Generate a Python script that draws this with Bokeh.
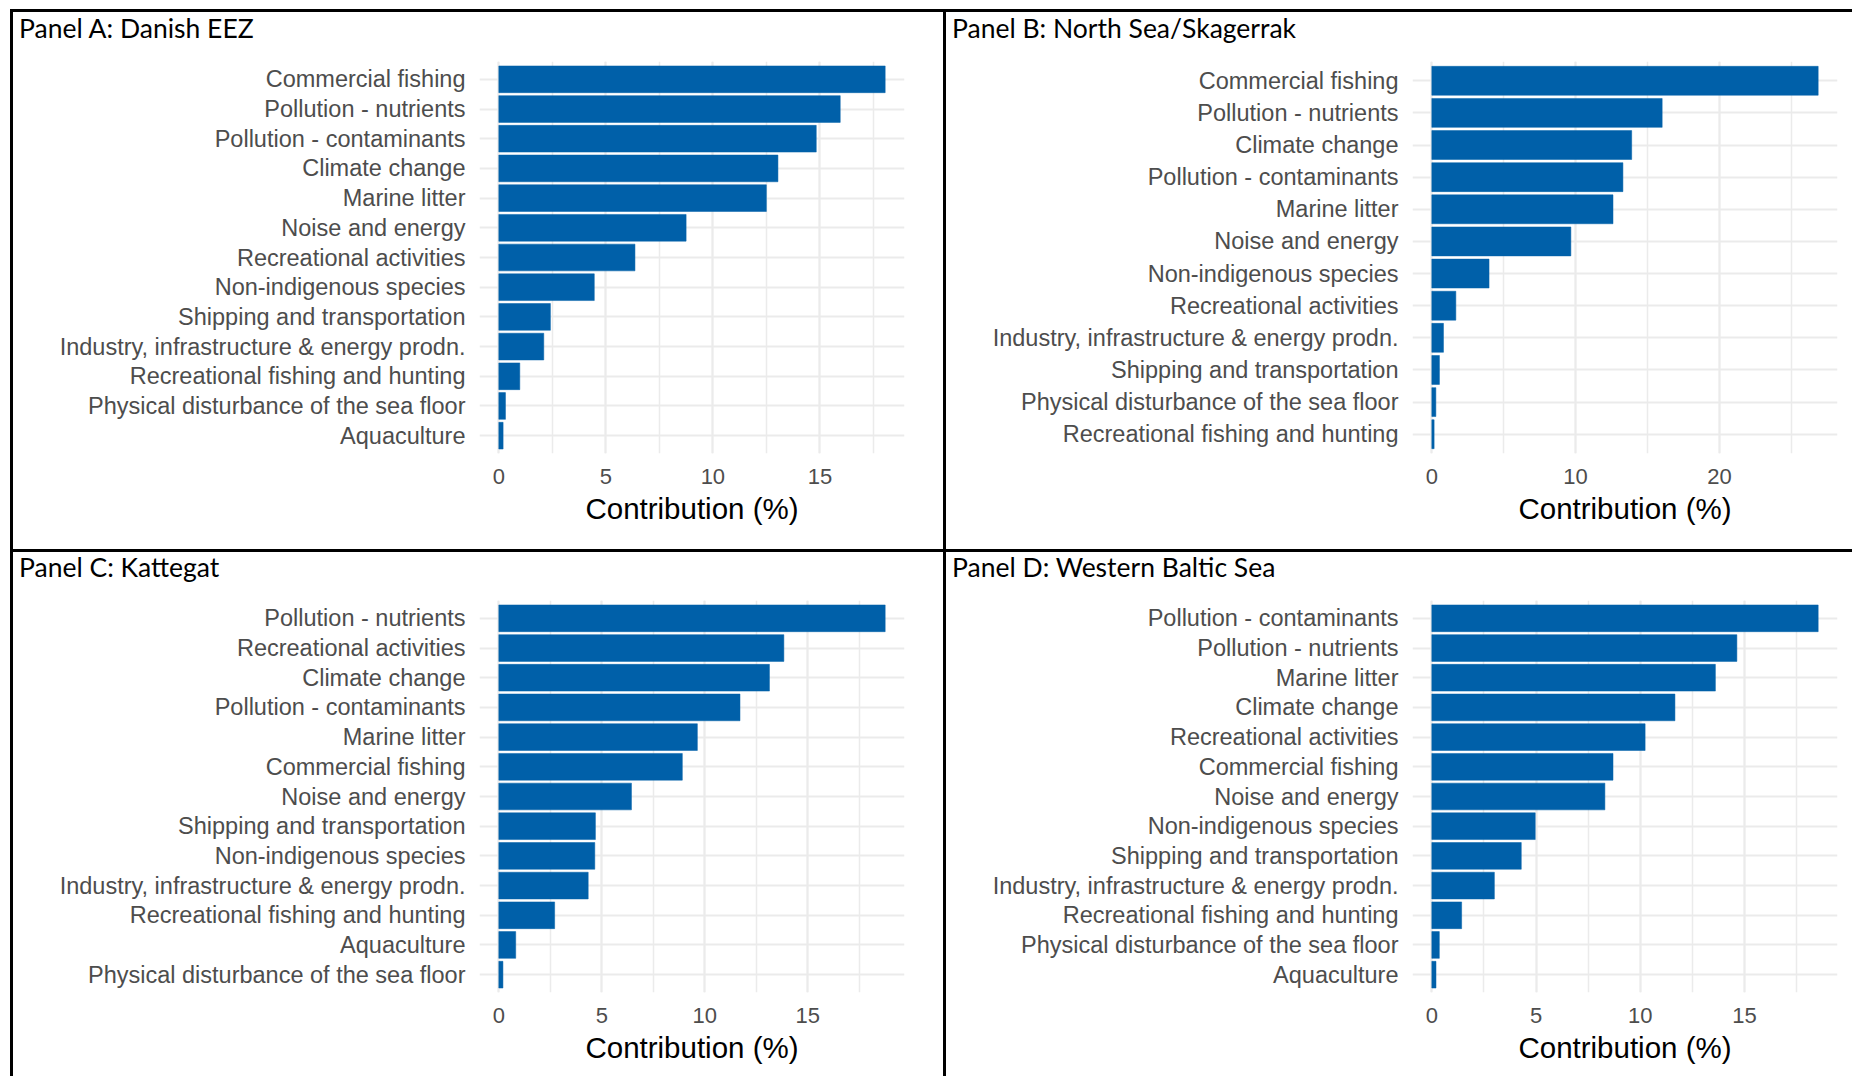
from bokeh.plotting import figure
from bokeh.models import Range1d, FixedTicker, SingleIntervalTicker, Spacer, Div
from bokeh.layouts import row, column
from bokeh.embed import file_html
from bokeh.resources import INLINE

# ---------------- data ----------------
title_a = "Panel A: Danish EEZ"
cats_a = ["Commercial fishing", "Pollution - nutrients", "Pollution - contaminants",
          "Climate change", "Marine litter", "Noise and energy", "Recreational activities",
          "Non-indigenous species", "Shipping and transportation",
          "Industry, infrastructure & energy prodn.", "Recreational fishing and hunting",
          "Physical disturbance of the sea floor", "Aquaculture"]
vals_a = [18.05, 15.95, 14.83, 13.04, 12.5, 8.75, 6.36, 4.46, 2.41, 2.10, 0.98, 0.31, 0.2]

title_b = "Panel B: North Sea/Skagerrak"
cats_b = ["Commercial fishing", "Pollution - nutrients", "Climate change",
          "Pollution - contaminants", "Marine litter", "Noise and energy",
          "Non-indigenous species", "Recreational activities",
          "Industry, infrastructure & energy prodn.", "Shipping and transportation",
          "Physical disturbance of the sea floor", "Recreational fishing and hunting"]
vals_b = [26.87, 16.02, 13.9, 13.29, 12.6, 9.67, 3.98, 1.67, 0.81, 0.53, 0.28, 0.16]

title_c = "Panel C: Kattegat"
cats_c = ["Pollution - nutrients", "Recreational activities", "Climate change",
          "Pollution - contaminants", "Marine litter", "Commercial fishing",
          "Noise and energy", "Shipping and transportation", "Non-indigenous species",
          "Industry, infrastructure & energy prodn.", "Recreational fishing and hunting",
          "Aquaculture", "Physical disturbance of the sea floor"]
vals_c = [18.76, 13.84, 13.14, 11.71, 9.64, 8.91, 6.44, 4.69, 4.66, 4.34, 2.71, 0.82, 0.2]

title_d = "Panel D: Western Baltic Sea"
cats_d = ["Pollution - contaminants", "Pollution - nutrients", "Marine litter",
          "Climate change", "Recreational activities", "Commercial fishing",
          "Noise and energy", "Non-indigenous species", "Shipping and transportation",
          "Industry, infrastructure & energy prodn.", "Recreational fishing and hunting",
          "Physical disturbance of the sea floor", "Aquaculture"]
vals_d = [18.53, 14.63, 13.6, 11.66, 10.23, 8.69, 8.3, 4.96, 4.29, 3.0, 1.43, 0.36, 0.2]

x_label = "Contribution (%)"

BAR = "#0060A9"
GRID = "#EBEBEB"
TXT = "#4D4D4D"
BORDER = "3px solid black"


def title_div(title, width, height, pad_top):
    html = ('<div style="font-family:Lato;font-size:26.5px;line-height:26.5px;color:black;'
            'white-space:nowrap;padding:%dpx 0 0 6px;">%s</div>' % (pad_top, title))
    return Div(text=html, width=width, height=height, margin=0,
               styles={"border-left": BORDER, "border-top": BORDER,
                       "background-color": "white"})


def panel(cats, vals, interval, width, height, mb_right, mb_top, mb_bottom):
    n = len(cats)
    ys = list(range(n, 0, -1))
    vmax = max(vals)
    p = figure(width=width, height=height, output_backend="svg", toolbar_location=None,
               x_range=Range1d(-0.05 * vmax, 1.05 * vmax),
               y_range=Range1d(0.4, n + 0.6),
               min_border_left=466, min_border_right=mb_right,
               min_border_top=mb_top, min_border_bottom=mb_bottom,
               styles={"border-left": BORDER})
    p.hbar(y=ys, right=vals, left=0, height=0.9, fill_color=BAR, line_color=BAR, line_width=0.5)

    p.outline_line_color = None
    p.background_fill_color = "white"
    p.border_fill_color = "white"

    xa = p.xaxis[0]
    xa.ticker = SingleIntervalTicker(interval=interval, num_minor_ticks=2)
    xa.axis_line_color = None
    xa.major_tick_line_color = None
    xa.minor_tick_line_color = None
    xa.major_label_text_font = "Liberation Sans"
    xa.major_label_text_font_size = "22px"
    xa.major_label_text_color = TXT
    xa.major_label_standoff = 9
    xa.axis_label = x_label
    xa.axis_label_text_font = "Liberation Sans"
    xa.axis_label_text_font_size = "29.5px"
    xa.axis_label_text_font_style = "normal"
    xa.axis_label_text_color = "black"
    xa.axis_label_standoff = 5

    ya = p.yaxis[0]
    ya.ticker = FixedTicker(ticks=ys)
    ya.major_label_overrides = {y: c for y, c in zip(ys, cats)}
    ya.axis_line_color = None
    ya.major_tick_line_color = None
    ya.minor_tick_line_color = None
    ya.major_label_text_font = "Liberation Sans"
    ya.major_label_text_font_size = "23.5px"
    ya.major_label_text_color = TXT
    ya.major_label_standoff = 8

    p.xgrid.grid_line_color = GRID
    p.xgrid.grid_line_width = 2
    p.xgrid.minor_grid_line_color = GRID
    p.xgrid.minor_grid_line_width = 1.5
    p.ygrid.grid_line_color = GRID
    p.ygrid.grid_line_width = 2
    return p


block_a = column(title_div(title_a, 933, 40, 3),
                 panel(cats_a, vals_a, 5, 933, 500, 42, 12, 96), spacing=0)
block_b = column(title_div(title_b, 909, 40, 3),
                 panel(cats_b, vals_b, 10, 909, 500, 18, 12, 96), spacing=0)
block_c = column(title_div(title_c, 933, 40, 2),
                 panel(cats_c, vals_c, 5, 933, 487, 42, 11, 84), spacing=0)
block_d = column(title_div(title_d, 909, 40, 2),
                 panel(cats_d, vals_d, 5, 909, 487, 18, 11, 84), spacing=0)

layout = column(
    Spacer(height=9),
    row(Spacer(width=10), column(row(block_a, block_b), row(block_c, block_d))),
)

open("out.html", "w").write(file_html(layout, INLINE))
